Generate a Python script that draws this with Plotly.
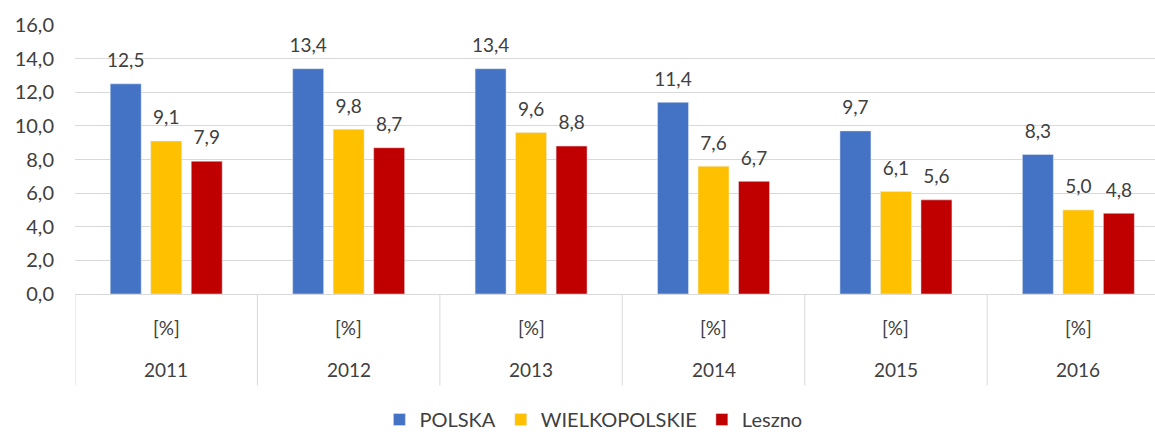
import plotly.graph_objects as go

years = ["2011", "2012", "2013", "2014", "2015", "2016"]
unit_label = "[%]"
polska = [12.5, 13.4, 13.4, 11.4, 9.7, 8.3]
wielkopolskie = [9.1, 9.8, 9.6, 7.6, 6.1, 5.0]
leszno = [7.9, 8.7, 8.8, 6.7, 5.6, 4.8]

FONT = "Lato, 'Open Sans', sans-serif"
TXT = "#404040"
GRID = "#D9D9D9"
series = [
    ("POLSKA", polska, "#4472C4"),
    ("WIELKOPOLSKIE", wielkopolskie, "#FFC000"),
    ("Leszno", leszno, "#C00000"),
]

fig = go.Figure()
for name, vals, color in series:
    # small blank second line lifts the label above the bar, like Excel does
    labels = ["<span style='font-size:19px'>" + f"{v:.1f}".replace(".", ",") + "</span><br> "
              for v in vals]
    fig.add_trace(go.Bar(
        x=list(range(len(years))), y=vals, name=name, marker_color=color,
        text=labels, textposition="outside", cliponaxis=False,
        constraintext="none",
        textfont=dict(size=9, color=TXT, family=FONT),
    ))

# category labels under the axis and the vertical dividers between years
for i, yr in enumerate(years):
    fig.add_annotation(x=i, y=-0.123, xref="x", yref="paper", text=unit_label,
                       showarrow=False, yanchor="middle", font=dict(size=19, color=TXT))
    fig.add_annotation(x=i, y=-0.279, xref="x", yref="paper", text=yr,
                       showarrow=False, yanchor="middle", font=dict(size=19, color=TXT))
for i in range(len(years) + 1):
    fig.add_shape(type="line", xref="x", yref="paper", x0=i - 0.5, x1=i - 0.5,
                  y0=0, y1=-0.34, line=dict(color=GRID, width=1))

fig.update_layout(
    width=1155, height=439,
    barmode="group", bargap=0.334, bargroupgap=0.235,
    separators=", ",
    plot_bgcolor="white", paper_bgcolor="white",
    margin=dict(l=75, r=0, t=25, b=138),
    font=dict(family=FONT, color=TXT, size=18),
    legend=dict(orientation="h", x=0.48, xanchor="center", y=-0.467, yanchor="middle",
                font=dict(size=20, color=TXT), itemwidth=30),
)
fig.update_yaxes(range=[0, 16], dtick=2, tickformat=".1f", showgrid=True,
                 gridcolor=GRID, zeroline=False, ticks="", automargin=False,
                 ticklabelstandoff=20, tickfont=dict(size=20, color=TXT))
fig.update_xaxes(type="linear", showline=True, linecolor=GRID, ticks="",
                 showticklabels=False, showgrid=False, zeroline=False,
                 automargin=False, range=[-0.5, 5.42])

# drop the default page margin so the figure fills the window exactly
fig.write_html("out.html", config={"displayModeBar": False},
               post_script="document.body.style.margin = '0';")
